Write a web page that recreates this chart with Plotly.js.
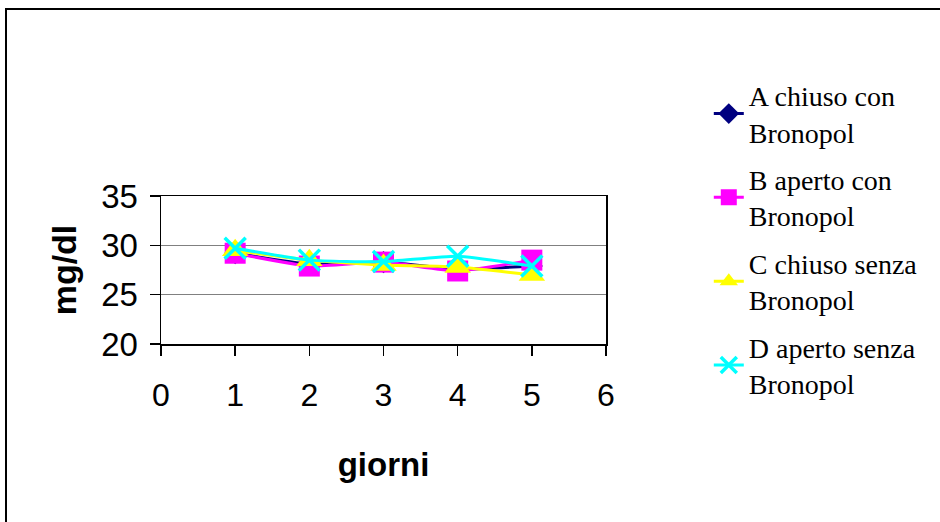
<!DOCTYPE html>
<html>
<head>
<meta charset="utf-8">
<script src="https://cdn.plot.ly/plotly-3.0.1.min.js"></script>
<style>
  html, body { margin:0; padding:0; background:#fff; }
  #frame { position:absolute; left:5px; top:8px; width:1000px; height:1000px; border-left:2px solid #000; border-top:2px solid #000; box-sizing:border-box; }
  #chart { position:absolute; left:0; top:0; width:940px; height:522px; }
</style>
</head>
<body>
<div id="frame"></div>
<div id="chart"></div>
<script>
const giorni = [1, 2, 3, 4, 5];
const serieA = [29.2, 28.1, 28.3, 27.6, 27.9];
const serieB = [29.2, 27.9, 28.3, 27.4, 28.5];
const serieC = [29.5, 28.5, 28.0, 27.8, 27.0];
const serieD = [29.7, 28.5, 28.35, 28.9, 27.9];
const nomi = ['A chiuso con<br>Bronopol', 'B aperto con<br>Bronopol', 'C chiuso senza<br>Bronopol', 'D aperto senza<br>Bronopol'];
const xTicks = [0, 1, 2, 3, 4, 5, 6];
const yTicks = [20, 25, 30, 35];

function tr(y, name, color, symbol, size, group) {
  const isX = symbol === 'x-thin';
  return {
    x: giorni, y: y, name: name, type: 'scatter', mode: 'lines+markers',
    legendgroup: group,
    line: { color: color, width: 3, shape: 'spline', smoothing: 0.5 },
    marker: { color: color, symbol: symbol, size: size,
      line: { color: color, width: isX ? 3.5 : 0 } }
  };
}

const data = [
  tr(serieA, nomi[0], '#000080', 'diamond', 17, 'a'),
  tr(serieB, nomi[1], '#FF00FF', 'square', 21, 'b'),
  tr(serieC, nomi[2], '#FFFF00', 'triangle-up', 23, 'c'),
  tr(serieD, nomi[3], '#00FFFF', 'x-thin', 21, 'd')
];

const layout = {
  width: 940, height: 522,
  paper_bgcolor: 'rgba(0,0,0,0)', plot_bgcolor: '#fff',
  margin: { l: 161, r: 334, t: 196, b: 178, pad: 0 },
  showlegend: true,
  legend: {
    x: 1.231, xanchor: 'left', y: 1.847, yanchor: 'top',
    maxheight: 500,
    font: { family: 'Liberation Serif, Times New Roman, serif', size: 28, color: '#000' },
    tracegroupgap: 8, itemwidth: 30, bgcolor: 'rgba(0,0,0,0)'
  },
  xaxis: {
    range: [0, 6], tickvals: xTicks, ticktext: xTicks.map(String),
    showgrid: false, zeroline: false,
    showline: true, linecolor: '#000', linewidth: 1.5, mirror: true,
    ticks: 'outside', ticklen: 10, tickcolor: '#000', tickwidth: 1.5,
    ticklabelstandoff: 12,
    tickfont: { family: 'Liberation Sans, Arial, sans-serif', size: 32, color: '#000' },
    title: { text: 'giorni', standoff: 41,
      font: { family: 'Liberation Sans, Arial, sans-serif', size: 33, color: '#000', weight: 'bold' } },
    automargin: false
  },
  yaxis: {
    range: [20, 35], tickvals: yTicks, ticktext: yTicks.map(String),
    showgrid: true, gridcolor: '#808080', gridwidth: 1.5, zeroline: false,
    showline: true, linecolor: '#000', linewidth: 1.5, mirror: true,
    ticks: 'outside', ticklen: 10, tickcolor: '#000', tickwidth: 1.5,
    ticklabelstandoff: 5,
    tickfont: { family: 'Liberation Sans, Arial, sans-serif', size: 33, color: '#000' },
    title: { text: 'mg/dl', standoff: 14,
      font: { family: 'Liberation Sans, Arial, sans-serif', size: 34, color: '#000', weight: 'bold' } },
    automargin: false
  }
};

Plotly.newPlot('chart', data, layout, { displayModeBar: false, staticPlot: true });
</script>
</body>
</html>
